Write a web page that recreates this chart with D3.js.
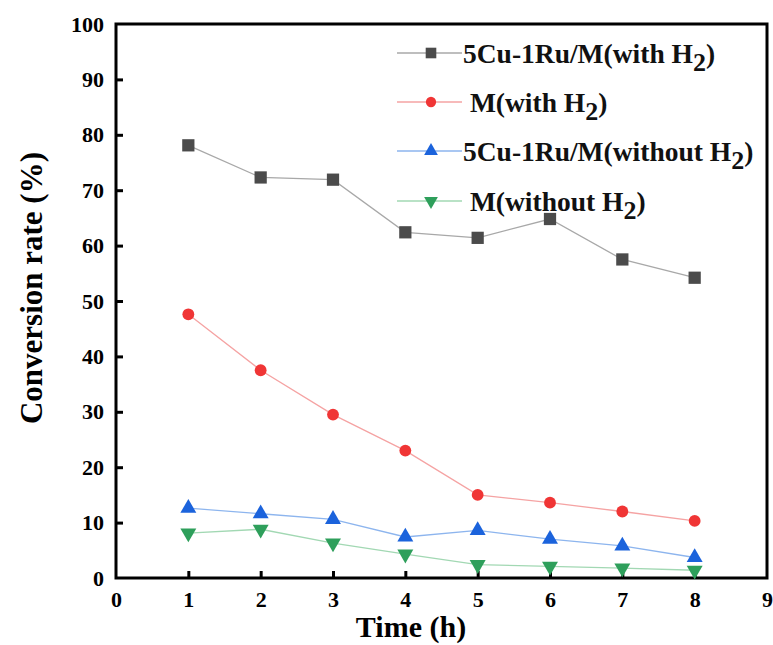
<!DOCTYPE html>
<html><head><meta charset="utf-8">
<script src="https://cdn.jsdelivr.net/npm/d3@7"></script>
<style>body{margin:0;background:#fff}svg{display:block}</style>
</head><body>
<script>
const times = [1,2,3,4,5,6,7,8];
const cuRuWithH2 = [78.1, 72.3, 71.9, 62.4, 61.4, 64.8, 57.5, 54.2];
const mWithH2 = [47.6, 37.5, 29.5, 23.0, 15.0, 13.6, 12.0, 10.3];
const cuRuWithoutH2 = [12.6, 11.6, 10.6, 7.4, 8.6, 7.0, 5.8, 3.7];
const mWithoutH2 = [8.1, 8.8, 6.3, 4.3, 2.4, 2.1, 1.8, 1.4];
const xTicks = [0,1,2,3,4,5,6,7,8,9];
const yTicks = [0,10,20,30,40,50,60,70,80,90,100];
const seriesNames = ["5Cu-1Ru/M(with H", " M(with H", "5Cu-1Ru/M(without H", " M(without H"];

const W = 773, H = 645;
const m = {l:116, r:6, t:24, b:67};
const svg = d3.select("body").append("svg").attr("width", W).attr("height", H);
const x = d3.scaleLinear().domain([0,9]).range([m.l, W - m.r]);
const y = d3.scaleLinear().domain([0,100]).range([H - m.b, m.t]);
const font = "'Liberation Serif', 'Times New Roman', serif";

const series = [
  {name: seriesNames[0], vals: cuRuWithH2, fill: "#4b4b4b", line: "#a8a8a8", sym: d3.symbolSquare, size: 150, rot: 0},
  {name: seriesNames[1], vals: mWithH2, fill: "#f03535", line: "#f5a3a3", sym: d3.symbolCircle, size: 110, rot: 0},
  {name: seriesNames[2], vals: cuRuWithoutH2, fill: "#1b63dc", line: "#8db5ee", sym: d3.symbolTriangle, size: 110, rot: 0},
  {name: seriesNames[3], vals: mWithoutH2, fill: "#2e9f5b", line: "#a2d8b3", sym: d3.symbolTriangle, size: 110, rot: 180}
];

// axes
const xAxis = d3.axisBottom(x).tickValues(xTicks).tickSize(-7).tickPadding(13).tickFormat(d3.format("d"));
const yAxis = d3.axisLeft(y).tickValues(yTicks).tickSize(-7).tickPadding(12).tickFormat(d3.format("d"));
const gx = svg.append("g").attr("transform", `translate(0,${H - m.b})`).call(xAxis);
const gy = svg.append("g").attr("transform", `translate(${m.l},0)`).call(yAxis);
[gx, gy].forEach(g => {
  g.select(".domain").remove();
  g.selectAll(".tick line").attr("stroke", "#000").attr("stroke-width", 3);
  g.selectAll(".tick text").attr("font-family", font).attr("font-weight", "bold").attr("font-size", 22).attr("fill", "#000");
});
gx.selectAll(".tick").filter(d => d === 0 || d === 9).select("line").remove();
gy.selectAll(".tick").filter(d => d === 0 || d === 100).select("line").remove();

// frame
svg.append("rect").attr("x", m.l).attr("y", m.t).attr("width", W - m.r - m.l).attr("height", H - m.b - m.t)
  .attr("fill", "none").attr("stroke", "#000").attr("stroke-width", 3);

// lines and markers
const lineGen = d3.line().x((d,i) => x(times[i])).y(d => y(d));
series.forEach(s => {
  svg.append("path").datum(s.vals).attr("d", lineGen).attr("fill", "none").attr("stroke", s.line).attr("stroke-width", 1.3);
  svg.selectAll(null).data(s.vals).enter().append("path")
    .attr("d", d3.symbol().type(s.sym).size(s.size))
    .attr("transform", (d,i) => `translate(${x(times[i])},${y(d)}) rotate(${s.rot})`)
    .attr("fill", s.fill);
});

// legend
const legY = [53, 102, 151, 201];
series.forEach((s, i) => {
  const g = svg.append("g").attr("transform", `translate(0,${legY[i]})`);
  g.append("line").attr("x1", 397).attr("x2", 462).attr("y1", 0).attr("y2", 0).attr("stroke", s.line).attr("stroke-width", 1.3);
  g.append("path").attr("d", d3.symbol().type(s.sym).size(s.size * 0.75))
    .attr("transform", `translate(431,0) rotate(${s.rot})`).attr("fill", s.fill);
  const t = g.append("text").attr("x", 463).attr("y", 10).attr("font-family", font).attr("font-weight", "bold")
    .attr("font-size", 27.5).attr("fill", "#111").attr("xml:space", "preserve").style("white-space", "pre");
  t.append("tspan").text(s.name);
  t.append("tspan").attr("dy", 8).attr("font-size", 26).text("2");
  t.append("tspan").attr("dy", -8).text(")");
});

// axis titles
svg.append("text").attr("x", 411).attr("y", 637).attr("text-anchor", "middle")
  .attr("font-family", font).attr("font-weight", "bold").attr("font-size", 30).text("Time (h)");
svg.append("text").attr("transform", `translate(42,288) rotate(-90)`).attr("text-anchor", "middle")
  .attr("font-family", font).attr("font-weight", "bold").attr("font-size", 31).text("Conversion rate (%)");
</script>
</body></html>
